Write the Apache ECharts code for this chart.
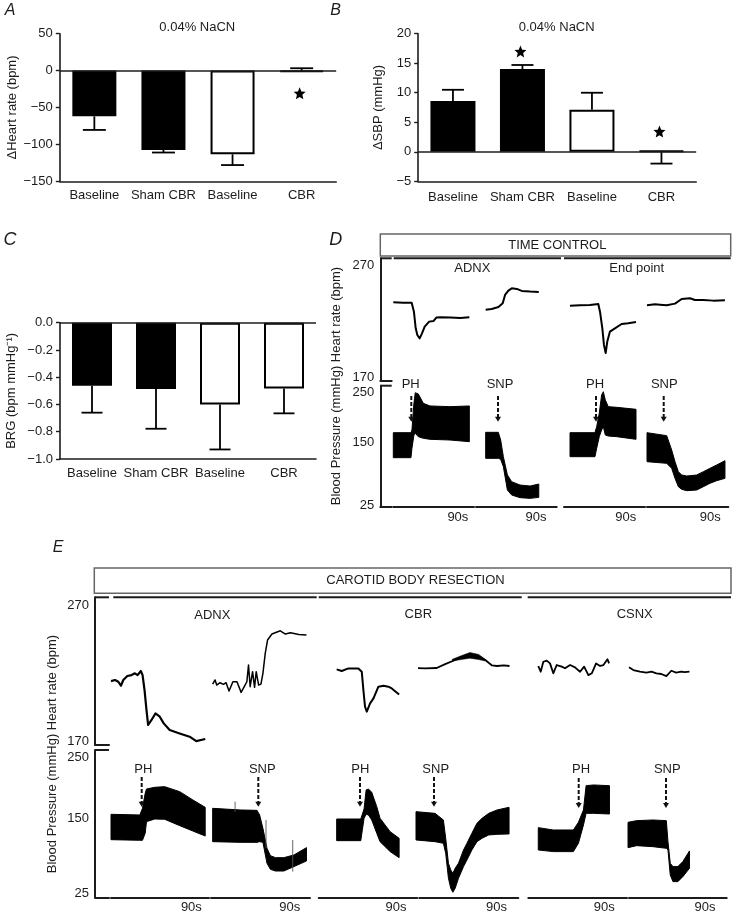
<!DOCTYPE html>
<html><head><meta charset="utf-8">
<script src="https://cdn.jsdelivr.net/npm/echarts@6/dist/echarts.min.js"></script>
<style>html,body{margin:0;padding:0;background:#fff}#c{width:733px;height:916px}</style>
</head><body><div id="c"></div>
<script>
// ---------- Bar data ----------
const categories = ['Baseline', 'Sham CBR', 'Baseline', 'CBR'];
const barFills = ['#000', '#000', '#fff', '#fff'];
const hrValues = [-62, -107.5, -113.4, -1.5];
const hrErrEnds = [-80.4, -111, -128, 3.2];
const hrStars = [[3, -30.7]];
const sbpValues = [8.6, 14, 7.1, 0.17];
const sbpErrEnds = [10.5, 14.7, 10, -2];
const sbpStars = [[1, 17], [3, 3.44]];
const brgValues = [-0.462, -0.487, -0.6, -0.482];
const brgErrEnds = [-0.66, -0.778, -0.93, -0.665];

// ---------- Time control traces: [seconds, bpm] ----------
const hrD1 = [[0,237.2],[11.2,236.9],[20.5,236.9],[23,228.8],[25,213.9],[26.8,207.9],[29.4,204.9],[32,209.4],[35,215.4],[40,219.9],[45,220.5],[48,223.5],[52,223.8],[63.6,223.5],[74.8,223.2],[84.8,223.8]];
const hrD2 = [[10.8,230.6],[17.5,231.2],[25,233],[29.8,236.3],[32.4,243.8],[36.1,247.7],[39.9,249.7],[45.5,249.2],[51,247.4],[60.3,246.8],[70,246.5]];
const hrD3 = [[6.7,234.2],[17.8,234.5],[28.9,234.8],[38.1,235.7],[40,228.8],[42.6,213.9],[44.4,199],[46.3,191.8],[48.1,202],[51,210.9],[56.6,213.9],[64,217.8],[71.4,218.4],[80,219.6]];
const hrD4 = [[0,234.5],[8.9,235.4],[14.4,235.1],[21.8,234.5],[31,236],[38.4,240.2],[47.6,240.8],[53.1,239.3],[62.3,239.3],[73.4,238.7],[86.3,239]];
// ---------- Time control pressure envelopes: [seconds, upper mmHg, lower mmHg] ----------
const bpD1 = [[0,169.9,119.8],[19.7,169.9,119.8],[20.8,175.3,138.5],[23,228.7,165.2],[24.5,250,168.6],[27.9,247.4,161.9],[33.5,228.7,158.6],[40.9,223.4,156.6],[63.2,222,155.2],[84.8,223.4,151.9]];
const bpD2 = [[10.8,170.6,118.5],[24.9,170.6,118.5],[27.5,155.2,116.5],[30.5,121.8,101.8],[35,85.1,55],[39.8,71.7,45],[49.1,65,39.7],[60.3,63,38.3],[70,67,40.3]];
const bpD3 = [[6.7,169.9,121.8],[34.4,169.9,121.8],[36.3,182,138.5],[39.2,208.7,161.9],[41.8,245.4,175.3],[43.7,252,182],[45.9,235.4,165.2],[49.2,222,163.2],[58.5,220.7,161.9],[80,216.7,156.6]];
const bpD4 = [[0,169.9,111.8],[21.8,163.9,108.5],[27.3,135.2,98.4],[31,111.8,78.4],[34.7,91.8,61.7],[38.4,85.1,56.4],[43.9,83.1,53.7],[55,85.1,55],[62.4,91.8,61.7],[69.7,98.4,68.4],[77.1,105.1,73.7],[86.3,113.8,78.4]];

// ---------- Carotid body resection traces: [seconds, bpm] ----------
const hrE1 = [[0,214.6],[3.7,215.4],[6.7,214.1],[9.1,211.2],[11.3,215.4],[15,218.3],[18.9,219],[22,220.3],[24.4,219],[27.4,222],[29,219],[30.8,208],[32.6,193.3],[34.1,182.3],[37.2,186],[40.8,190.8],[44.8,188.4],[48.4,183.5],[53.9,178.6],[63,176.1],[72.2,173.7],[78.3,170.5],[86.6,172]];
const hrE2 = [[1.5,212.4],[3.7,215.4],[5.2,211.7],[8.2,213.4],[11.3,212.2],[13.7,213.4],[16.4,207.3],[19.9,214.1],[23.6,214.1],[27.4,206.3],[30.2,210.5],[32.6,214.1],[34.1,226.4],[35.6,210.5],[37.8,221.5],[39.6,210],[41.1,221.5],[43.3,211.7],[45.4,212.4],[47.2,220.3],[49.3,235],[51.4,244.8],[55.4,249.2],[63,251.6],[67.6,249.2],[72.2,250.2],[79.8,248.9],[86.8,248.4]];
const hrE3 = [[16.4,223.2],[21,222],[27.1,223.9],[36.2,223.9],[39.3,221.5],[40.8,208],[42.3,195.7],[43.9,192.1],[46.9,198.2],[50,201.9],[54.5,210.5],[59.1,211.2],[63.6,210.5],[66.7,209.2],[73.4,204.8]];
const hrE4 = [[-3.4,224.2],[5.2,223.9],[15.8,224.2],[23.5,227.1],[32.6,230.1],[38.7,232],[46.3,233.7],[53.9,232.5],[60,230.1],[66.1,226.1],[70.7,225.7],[76.8,226.1],[82,225.7]];
const hrE4Thick = [[30,230.6,229.4],[38,233.2,230.4],[46,235.6,231.4],[54,234.2,230.4],[60,230.6,229.4]];
const hrE5 = [[9.1,225.7],[11.3,221.5],[13.7,228.8],[16.8,229.6],[19.8,227.6],[22.8,220.3],[25.9,226.4],[30.5,225.2],[33.5,224],[38.1,226.4],[42.6,224.7],[47.2,221.5],[50.9,225.2],[54.8,219],[57.9,220.3],[61.8,227.6],[65.5,225.7],[68.5,226.4],[72.2,230.6],[73.7,227.6]];
const hrE6 = [[0,224.7],[4,222.7],[10,221.5],[16.1,220.8],[20.7,221.5],[25.3,220.3],[29.8,219.8],[34.4,218.3],[39,222.2],[43.5,220.8],[48.1,221.5],[51.2,221.2],[55.7,221.5]];
// ---------- Carotid body resection pressure envelopes ----------
const bpE1 = [[0,156.1,114],[26.5,155,113],[28.9,166,113],[31.4,190.9,124.6],[32.6,198.1,143.9],[40.2,200.9,148.3],[49.3,202,147.8],[63.1,193.7,137.3],[75.2,179.9,128.4],[86.5,167.7,120.1]];
const bpE2 = [[1.5,166,110.7],[26.5,163.3,109.6],[41.8,162.7,109.6],[44.2,155,110.7],[47.2,132.9,109.6],[50.9,99.7,74.8],[54,87.5,64.8],[58.6,84.2,62],[66.2,84.2,62],[75.4,88.6,69.3],[86.8,100.8,78.7]];
const bpE2Spikes = [[21.9,177,160],[50,146.7,100],[74.3,113.5,61]];
const bpE3 = [[16.4,148.3,112.4],[38.4,148.3,112.4],[41.4,164.9,149.5],[43.3,196.5,156.1],[45.4,198.1,155],[48.4,192.6,146.7],[53,168.8,124.6],[56,149.5,110.7],[65.2,127.3,94.2],[73.4,116.3,84.2]];
const bpE4 = [[-3,160.5,113.5],[14.3,157.7,110.7],[21.9,146.7,108],[24,116.3,91.4],[26.5,74.8,49.9],[28.6,63.7,33.3],[30.5,58.2,26.7],[32.6,66.5,33.3],[35.6,74.8,49.9],[40.2,96.9,69.3],[43.3,108,80.3],[47.8,124.6,96.9],[52.4,141.2,110.7],[57,149.4,116.3],[63.1,157.7,121.8],[70.7,163.3,122.9],[81.6,167.7,123.5]];
const bpE5 = [[9.1,134,96.9],[22.8,130.1,94.2],[41.1,130.1,94.2],[45.7,142.8,108],[50.3,163.3,138.4],[52.7,203.6,157.7],[59.4,204.8,157.7],[74,203.6,156.6]];
const bpE6 = [[-0.9,142.8,100.8],[7,145.6,104.1],[22.2,146.7,102.4],[34.4,145.6,99.7],[35.9,110.7,96.9],[38,74.8,55.4],[40.5,69.3,44.4],[45,69.3,44.4],[49.6,77.6,52.7],[55.7,95.3,66.5]];

// ---------- Tick labels ----------
const hrTicksTrace = [270, 170];
const bpTicksTraceD = [250, 150, 25];
const label90sAtD = [72, 67, 68.5, 70];
const label90sAtE = [73.8, 71.5, 70.6, 70.1, 69.2, 70];

// ---------- Helpers ----------
const FONT = '"Liberation Sans", Arial, sans-serif';
const INK = '#1c1c1c';
const STAR = 'path://M12 0.8l3.2 7.6 8.1.7-6.2 5.3 1.9 8L12 18.2l-7 4.2 1.9-8L0.7 9.1l8.1-.7z';
const minus = v => String(v).replace('-', '\u2212');
const grids = [], xAxes = [], yAxes = [], series = [], gfx = [];
function addGrid(rect, x, y) {
  grids.push(Object.assign({containLabel: false}, rect));
  const i = grids.length - 1;
  xAxes.push(Object.assign({gridIndex: i}, x));
  yAxes.push(Object.assign({gridIndex: i}, y));
  return i;
}
const hidden = {show: false};
function barPanel(rect, vals, ends, stars, yCfg, yName, gap, barW, capW, labelMargin, starOffX) {
  const g = addGrid(rect, {
    type: 'category', data: categories, position: 'bottom',
    axisLine: {onZero: false, lineStyle: {color: INK, width: 1.6}},
    axisTick: {alignWithLabel: true, length: 4, lineStyle: {color: INK, width: 1.4}},
    axisLabel: {color: INK, fontFamily: FONT, fontSize: 13, margin: labelMargin, interval: 0}
  }, Object.assign({
    type: 'value', name: yName, nameLocation: 'middle', nameGap: gap, nameRotate: 90,
    nameTextStyle: {color: INK, fontFamily: FONT, fontSize: 13},
    splitLine: hidden,
    axisLine: {show: true, onZero: false, lineStyle: {color: INK, width: 1.6}},
    axisTick: {show: true, length: 4, lineStyle: {color: INK, width: 1.4}},
    axisLabel: {color: INK, fontFamily: FONT, fontSize: 13, margin: 7, formatter: minus}
  }, yCfg));
  series.push({
    type: 'bar', xAxisIndex: g, yAxisIndex: g, barWidth: barW, z: 3,
    data: vals.map((v, i) => ({value: v, itemStyle: {color: barFills[i], borderColor: '#000', borderWidth: 2}})),
    markLine: {silent: true, symbol: 'none', label: {show: false}, animation: false,
      lineStyle: {color: INK, width: 1.6, type: 'solid'}, data: [{yAxis: 0}]}
  });
  series.push({
    type: 'custom', xAxisIndex: g, yAxisIndex: g, z: 2,
    data: vals.map((v, i) => [i, v, ends[i]]),
    renderItem: (p, api) => {
      const a = api.coord([api.value(0), api.value(1)]);
      const b = api.coord([api.value(0), api.value(2)]);
      const st = {stroke: '#000', lineWidth: 1.8, fill: null};
      return {type: 'group', children: [
        {type: 'line', shape: {x1: a[0], y1: a[1], x2: b[0], y2: b[1]}, style: st},
        {type: 'line', shape: {x1: b[0] - capW / 2, y1: b[1], x2: b[0] + capW / 2, y2: b[1]}, style: st}
      ]};
    }
  });
  if (stars.length) series.push({
    type: 'scatter', xAxisIndex: g, yAxisIndex: g, data: stars, symbol: STAR, symbolSize: 12,
    symbolOffset: [starOffX, 0], itemStyle: {color: '#000', opacity: 1}, z: 5
  });
}
function band(g, rows, w) {
  series.push({
    type: 'custom', xAxisIndex: g, yAxisIndex: g, z: 3, data: rows,
    renderItem: (p, api) => {
      if (p.dataIndex !== 0) return null;
      const up = rows.map(r => api.coord([r[0], r[1]]));
      const lo = rows.map(r => api.coord([r[0], r[2]])).reverse();
      return {type: 'polygon', shape: {points: up.concat(lo)},
        style: {fill: '#000', stroke: '#000', lineWidth: w || 1, lineJoin: 'round'}};
    }
  });
}
function line(g, rows, w) {
  series.push({
    type: 'line', xAxisIndex: g, yAxisIndex: g, data: rows, showSymbol: false, symbol: 'none',
    clip: false, smooth: false, z: 3, lineStyle: {color: '#000', width: w || 2, join: 'round'}
  });
}
const tAxis = {type: 'value', min: 0, max: 90, show: false, splitLine: hidden};
function scaleAxis(s) { return {type: 'value', min: s.min, max: s.max, show: false, splitLine: hidden}; }
function traceColumn(rect, hrS, bpS, hr, bp, at, hrW) {
  const a = addGrid({left: rect[0], width: rect[1], top: hrS.top, height: hrS.height}, tAxis, scaleAxis(hrS));
  line(a, hr, hrW);
  const b = addGrid({left: rect[0], width: rect[1], top: bpS.top, height: bpS.height}, {
    type: 'value', min: 0, max: 90, splitLine: hidden, axisTick: hidden,
    axisLine: {show: true, onZero: false, lineStyle: {color: INK, width: 2}},
    axisLabel: {show: true, customValues: [at], formatter: () => '90s', color: INK, fontFamily: FONT, fontSize: 13, margin: 4}
  }, scaleAxis(bpS));
  band(b, bp);
  return [a, b];
}
function leftAxis(x, w, s, ticks) {
  addGrid({left: x, width: w, top: s.top, height: s.height}, {
    type: 'value', min: 0, max: 1, splitLine: hidden, axisTick: hidden, axisLabel: hidden,
    axisLine: {show: true, onZero: false, lineStyle: {color: INK, width: 2}}
  }, {
    type: 'value', min: s.min, max: s.max, splitLine: hidden, axisTick: hidden,
    axisLine: {show: true, onZero: false, lineStyle: {color: INK, width: 2}},
    axisLabel: {show: true, customValues: ticks, color: INK, fontFamily: FONT, fontSize: 13, margin: 6}
  });
}
function txt(s, x, y, o) {
  o = o || {};
  gfx.push({type: 'text', x, y, rotation: o.rot || 0, z: 10, style: {
    text: s, fill: INK, textAlign: o.align || 'center', textVerticalAlign: 'middle',
    font: (o.italic ? 'italic ' : '') + (o.size || 13) + 'px ' + FONT}});
}
function seg(x1, y1, x2, y2, w, c) {
  gfx.push({type: 'line', z: 10, shape: {x1, y1, x2, y2}, style: {stroke: c || INK, lineWidth: w || 2}});
}
function rectBox(x, y, w, h) {
  gfx.push({type: 'rect', z: 9, shape: {x, y, width: w, height: h}, style: {fill: '#fff', stroke: '#666', lineWidth: 1.5}});
}
function arrow(x, y1, y2) {
  gfx.push({type: 'line', z: 11, shape: {x1: x, y1, x2: x, y2: y2 - 4}, style: {stroke: '#111', lineWidth: 2, lineDash: [4, 2]}});
  gfx.push({type: 'polygon', z: 11, shape: {points: [[x - 3, y2 - 5], [x + 3, y2 - 5], [x, y2]]}, style: {fill: '#111'}});
}

// ---------- Panels A, B, C ----------
barPanel({left: 59.8, width: 276.4, top: 33.7, height: 147.6}, hrValues, hrErrEnds, hrStars,
  {min: -150, max: 50, interval: 50}, '\u0394Heart rate (bpm)', 41, 44, 23, 8, -2);
barPanel({left: 418.2, width: 278, top: 33.7, height: 147.6}, sbpValues, sbpErrEnds, sbpStars,
  {min: -5, max: 20, interval: 5}, '\u0394SBP (mmHg)', 33, 45, 22, 10, -2);
barPanel({left: 60, width: 256, top: 322.7, height: 136.3}, brgValues, brgErrEnds, [],
  {min: -1, max: 0, interval: 0.2, axisLabel: {color: INK, fontFamily: FONT, fontSize: 13, margin: 7,
    formatter: v => minus(v.toFixed(1))}}, 'BRG (bpm mmHg\u207B\u00B9)', 42, 40, 21, 8, 0);

// ---------- Panel D ----------
const hrScaleD = {top: 258.3, height: 122.4, min: 167, max: 276.6};
const bpScaleD = {top: 385.7, height: 121.3, min: 21, max: 264};
leftAxis(380.3, 11.4, hrScaleD, hrTicksTrace);
leftAxis(380.3, 11.4, bpScaleD, bpTicksTraceD);
traceColumn([393.3, 80.7], hrScaleD, bpScaleD, hrD1, bpD1, label90sAtD[0]);
traceColumn([476, 80.7], hrScaleD, bpScaleD, hrD2, bpD2, label90sAtD[1]);
traceColumn([564, 81], hrScaleD, bpScaleD, hrD3, bpD3, label90sAtD[2]);
traceColumn([647, 81.3], hrScaleD, bpScaleD, hrD4, bpD4, label90sAtD[3]);

// ---------- Panel E ----------
const hrScaleE = {top: 597.3, height: 147.7, min: 167.6, max: 276.2};
const bpScaleE = {top: 750, height: 147.3, min: 18.4, max: 262.8};
leftAxis(95, 14, hrScaleE, hrTicksTrace);
leftAxis(95, 14, bpScaleE, bpTicksTraceD);
traceColumn([111, 98], hrScaleE, bpScaleE, hrE1, bpE1, label90sAtE[0], 2.2);
const colE2 = traceColumn([211, 99], hrScaleE, bpScaleE, hrE2, bpE2, label90sAtE[1], 1.5);
const colE3 = traceColumn([318.7, 98.6], hrScaleE, bpScaleE, hrE3, bpE3, label90sAtE[2]);
const colE4 = traceColumn([419.3, 99], hrScaleE, bpScaleE, hrE4, bpE4, label90sAtE[3], 1.8);
traceColumn([528.3, 98.7], hrScaleE, bpScaleE, hrE5, bpE5, label90sAtE[4], 1.8);
traceColumn([629, 97.7], hrScaleE, bpScaleE, hrE6, bpE6, label90sAtE[5], 1.8);
band(colE4[0], hrE4Thick, 0.5);
series.push({
  type: 'custom', xAxisIndex: colE2[1], yAxisIndex: colE2[1], z: 4, data: bpE2Spikes,
  renderItem: (p, api) => {
    const a = api.coord([api.value(0), api.value(1)]), b = api.coord([api.value(0), api.value(2)]);
    return {type: 'line', shape: {x1: a[0], y1: a[1], x2: b[0], y2: b[1]}, style: {stroke: '#555', lineWidth: 0.9}};
  }
});

// ---------- Decoration and text ----------
txt('A', 10, 10.5, {italic: true, size: 16});
txt('B', 335.7, 10.5, {italic: true, size: 16});
txt('C', 10, 240, {italic: true, size: 18});
txt('D', 335.7, 240, {italic: true, size: 18});
txt('E', 58, 548, {italic: true, size: 16});
txt('0.04% NaCN', 197.3, 27);
txt('0.04% NaCN', 556.7, 27);

rectBox(380.3, 234, 350.4, 22);
txt('TIME CONTROL', 557.3, 245);
seg(380.3, 258.3, 391.7, 258.3); seg(393.7, 258.3, 561, 258.3); seg(564, 258.3, 730.7, 258.3);
seg(380.3, 385.7, 391.7, 385.7);
txt('ADNX', 472.3, 268.3); txt('End point', 636.7, 268.3);
txt('Blood Pressure (mmHg) Heart rate (bpm)', 336.6, 386, {rot: Math.PI / 2});
txt('PH', 410.7, 384.3); txt('SNP', 500, 384.3); txt('PH', 595, 384.3); txt('SNP', 664.3, 384.3);
arrow(411.3, 396, 421.7); arrow(498, 396, 421.7); arrow(596, 396, 421.7); arrow(663.7, 396, 421.7);

rectBox(94.3, 568, 636.7, 25.3);
txt('CAROTID BODY RESECTION', 415.5, 580.7);
seg(95, 597.3, 109, 597.3); seg(113.3, 597.3, 316.7, 597.3); seg(318.7, 597.3, 521.7, 597.3); seg(527.7, 597.3, 731, 597.3);
seg(95, 750, 109, 750);
txt('ADNX', 212.3, 615); txt('CBR', 418.3, 614); txt('CSNX', 634.7, 614);
txt('Blood Pressure (mmHg) Heart rate (bpm)', 52.3, 754, {rot: Math.PI / 2});
txt('PH', 143.3, 769.3); txt('SNP', 262.3, 769.3); txt('PH', 360.3, 769.3);
txt('SNP', 435.7, 769.3); txt('PH', 581, 769.3); txt('SNP', 667.3, 769.3);
arrow(141.7, 777, 806.7); arrow(258.3, 777, 806.7); arrow(360, 777, 806.7);
arrow(434, 777, 806.7); arrow(578.7, 778, 808); arrow(666, 778, 808);

const chart = echarts.init(document.getElementById('c'), null, {renderer: 'canvas'});
chart.setOption({
  animation: false, backgroundColor: '#fff', tooltip: {show: false},
  grid: grids, xAxis: xAxes, yAxis: yAxes, series, graphic: gfx
});
</script></body></html>
